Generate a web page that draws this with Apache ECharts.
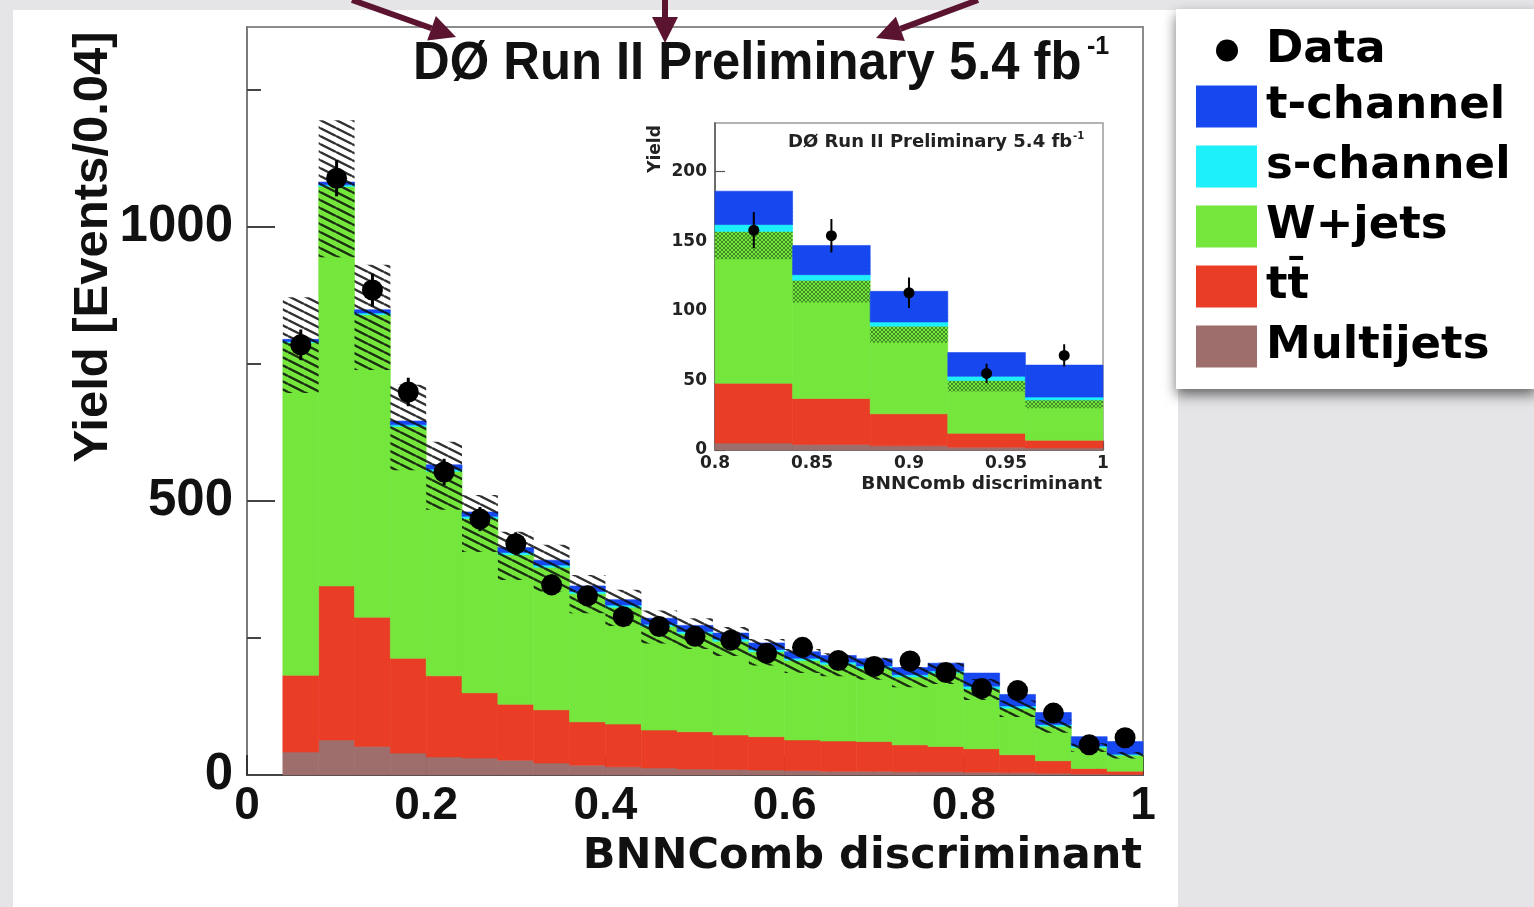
<!DOCTYPE html>
<html><head><meta charset="utf-8">
<script src="https://cdn.jsdelivr.net/npm/echarts@6/dist/echarts.min.js"></script>
<style>html,body{margin:0;padding:0;background:#e5e5e7;overflow:hidden}#c{width:1534px;height:907px}</style>
</head><body><div id="c"></div>
<script>
// ---------------- data ----------------
const binEdges = [0.04,0.08,0.12,0.16,0.20,0.24,0.28,0.32,0.36,0.40,0.44,0.48,0.52,0.56,0.60,0.64,0.68,0.72,0.76,0.80,0.84,0.88,0.92,0.96,1.00];
const dataYield = [785,1089,885,699,553,467,422,347,327,289,271,253,246,222,233,209,198,208,187,158,154,113,55,68];
const dataErr   = [28,33,30,26,24,22,21,19,18,17,16,16,16,15,15,14,14,14,14,13,12,11,7,8];
const multijets = [42,64,52,40,33,31,27,22,18,15,13,11,10,9,8,7,7,6,6,5,4,3,2,1.5];
const ttbar     = [140,281,236,173,148,119,102,97,79,78,69,68,63,61,56,55,54,49,46,43,33,23,10,5.5];
const wjets     = [607,729,552,423,373,318,273,260,234,213,189,179,171,155,145,140,134,124,134,109,85,63,38,29];
const schan     = [2,3,3,3,4,4,4,4,4,4,4,4,4,4,4,4,4,4,4,5,4,3,3,2];
const tchan     = [4,5,6,7,8,8,9,9,10,10,11,11,11,12,12,12,13,13,14,24,21,22,17,23];
const uncLow    = [697,945,739,556,484,407,356,335,295,272,240,230,217,200,186,180,174,160,166,137,106,77,42,30];
const uncHigh   = [872,1195,931,712,608,511,444,420,365,338,300,286,270,248,230,222,214,197,205,175,136,101,58,42];
const xTickLabels = [0,0.2,0.4,0.6,0.8,1];
const yMajorTicks = [0,500,1000];
const yMinorTicks = [250,750,1250];
const insetYTicks = [0,50,100,150,200];
const insetFirstBin = 19; // inset shows bins 0.80 - 1.00
const compNames  = ['Multijets','tt\u0304','W+jets','s-channel','t-channel'];
const compValues = [multijets, ttbar, wjets, schan, tchan];
const compColors = ['#9d6e6b','#ea3d26','#74e63c','#1ef0fa','#1747ef'];

// ---------------- helpers ----------------
function makeHatch(w, h, color, lw, cross) {
  const c = document.createElement('canvas'); c.width = w; c.height = h;
  const g = c.getContext('2d'); g.strokeStyle = color; g.lineWidth = lw;
  for (let k = -1; k <= 1; k++) {
    g.beginPath(); g.moveTo(0, k * h); g.lineTo(w, k * h + h); g.stroke();
    if (cross) { g.beginPath(); g.moveTo(0, k * h + h); g.lineTo(w, k * h); g.stroke(); }
  }
  return c;
}
const hatchMain = { image: makeHatch(16, 8, 'rgba(10,10,10,0.85)', 2.4, false), repeat: 'repeat' };
const hatchInset = { image: makeHatch(4, 4, 'rgba(25,70,20,0.55)', 1, true), repeat: 'repeat' };

function rectItem(params, api) {
  const p0 = api.coord([api.value(0), api.value(2)]);
  const p1 = api.coord([api.value(1), api.value(3)]);
  return { type: 'rect',
    shape: { x: p0[0], y: p1[1], width: p1[0] - p0[0], height: p0[1] - p1[1] },
    style: { fill: api.visual('color'), stroke: api.visual('color'), lineWidth: 0.6 } };
}
function hatchItem(fill) {
  return function (params, api) {
    const p0 = api.coord([api.value(0), api.value(2)]);
    const p1 = api.coord([api.value(1), api.value(3)]);
    return { type: 'rect',
      shape: { x: p0[0], y: p1[1], width: p1[0] - p0[0], height: p0[1] - p1[1] },
      style: { fill: fill } };
  };
}
function errItem(lw) {
  return function (params, api) {
    const a = api.coord([api.value(0), api.value(1) - api.value(2)]);
    const b = api.coord([api.value(0), api.value(1) + api.value(2)]);
    return { type: 'line', shape: { x1: a[0], y1: a[1], x2: b[0], y2: b[1] },
      style: { stroke: '#000', lineWidth: lw } };
  };
}

function buildSeries(from, to, axisIdx, hatchFill, hatchBeforeSignal, dotSize, errW) {
  const out = [];
  const cum = [];
  for (let i = from; i < to; i++) cum.push(0);
  const hatchSeries = {
    type: 'custom', name: 'Uncertainty', xAxisIndex: axisIdx, yAxisIndex: axisIdx,
    renderItem: hatchItem(hatchFill), silent: true,
    data: cum.map((_, j) => [binEdges[from + j], binEdges[from + j + 1], uncLow[from + j], uncHigh[from + j]])
  };
  compValues.forEach((vals, k) => {
    const data = [];
    for (let i = from; i < to; i++) {
      const j = i - from;
      data.push([binEdges[i], binEdges[i + 1], cum[j], cum[j] + vals[i]]);
      cum[j] += vals[i];
    }
    out.push({ type: 'custom', name: compNames[k], xAxisIndex: axisIdx, yAxisIndex: axisIdx,
      renderItem: rectItem, itemStyle: { color: compColors[k] }, silent: true, data: data });
    if (hatchBeforeSignal && k === 2) out.push(hatchSeries);
  });
  if (!hatchBeforeSignal) out.push(hatchSeries);
  const errData = [], dotData = [];
  for (let i = from; i < to; i++) {
    const c = (binEdges[i] + binEdges[i + 1]) / 2;
    errData.push([c, dataYield[i], dataErr[i]]);
    dotData.push([c, dataYield[i]]);
  }
  out.push({ type: 'custom', name: 'DataErr', xAxisIndex: axisIdx, yAxisIndex: axisIdx,
    renderItem: errItem(errW), silent: true, data: errData });
  out.push({ type: 'scatter', name: 'Data', xAxisIndex: axisIdx, yAxisIndex: axisIdx,
    symbol: 'circle', symbolSize: dotSize, itemStyle: { color: '#000', opacity: 1 }, silent: true, data: dotData });
  return out;
}

const series = [].concat(
  buildSeries(0, binEdges.length - 1, 0, hatchMain, false, 21, 3),
  buildSeries(insetFirstBin, binEdges.length - 1, 1, hatchInset, true, 11, 2)
);
// second y axis (index 2) only for the main plot's minor ticks: needs a carrier series
series.push({ type: 'line', xAxisIndex: 0, yAxisIndex: 2, data: [], silent: true });

const AR = '#5a1430';
function arrow(x0, y0, tx, ty) {
  const dx = tx - x0, dy = ty - y0, L = Math.hypot(dx, dy);
  const ux = dx / L, uy = dy / L, nx = -uy, ny = ux;
  const bx = tx - 26 * ux, by = ty - 26 * uy;
  return [
    { type: 'line', shape: { x1: x0, y1: y0, x2: bx, y2: by }, style: { stroke: AR, lineWidth: 6 }, z: 100 },
    { type: 'polygon', shape: { points: [[tx, ty], [bx + 13 * nx, by + 13 * ny], [bx - 13 * nx, by - 13 * ny]] },
      style: { fill: AR }, z: 100 }
  ];
}

const LS = "'Liberation Sans', Arial, Helvetica, sans-serif";
const DV = "'DejaVu Sans', Verdana, sans-serif";
const plain = v => String(+(+v).toFixed(2));

const option = {
  animation: false,
  backgroundColor: 'transparent',
  grid: [
    { left: 247, top: 27, width: 896, height: 748, show: true, borderColor: '#8c8c8c', borderWidth: 2, backgroundColor: 'transparent' },
    { left: 715, top: 123, width: 388, height: 327, show: true, borderColor: '#9a9a9a', borderWidth: 1.5, backgroundColor: '#ffffff' }
  ],
  xAxis: [
    { type: 'value', gridIndex: 0, min: 0, max: 1, interval: 0.2,
      axisLine: { show: true, onZero: false, lineStyle: { color: '#444', width: 2 } },
      axisTick: { show: true, inside: true, length: 20, lineStyle: { color: '#333', width: 2 } },
      minorTick: { show: true, splitNumber: 4, length: 10, lineStyle: { color: '#333', width: 2 } },
      splitLine: { show: false },
      axisLabel: { show: true, margin: 8, fontSize: 46, fontWeight: 'bold', fontFamily: LS, color: '#111',
        customValues: xTickLabels, formatter: plain } },
    { type: 'value', gridIndex: 1, min: 0.8, max: 1.0, interval: 0.05,
      axisLine: { show: true, onZero: false, lineStyle: { color: '#555', width: 1.5 } },
      axisTick: { show: true, inside: true, length: 9, lineStyle: { color: '#555', width: 1.2 } },
      minorTick: { show: true, splitNumber: 5, length: 5, lineStyle: { color: '#555', width: 1 } },
      splitLine: { show: false },
      axisLabel: { show: true, margin: 5, fontSize: 17, fontWeight: 'bold', fontFamily: DV, color: '#222',
        formatter: plain } }
  ],
  yAxis: [
    { type: 'value', gridIndex: 0, min: 0, max: 1365,
      axisLine: { show: true, onZero: false, lineStyle: { color: '#7a7a7a', width: 2 } },
      axisTick: { show: true, inside: true, length: 28, customValues: yMajorTicks, lineStyle: { color: '#444', width: 2 } },
      splitLine: { show: false },
      axisLabel: { show: true, margin: 14, fontSize: 51, fontWeight: 'bold', fontFamily: LS, color: '#111',
        customValues: yMajorTicks, formatter: plain } },
    { type: 'value', gridIndex: 1, min: 0, max: 235,
      axisLine: { show: true, onZero: false, lineStyle: { color: '#555', width: 1.5 } },
      axisTick: { show: true, inside: true, length: 10, customValues: insetYTicks, lineStyle: { color: '#555', width: 1.2 } },
      splitLine: { show: false },
      axisLabel: { show: true, margin: 8, fontSize: 17, fontWeight: 'bold', fontFamily: DV, color: '#222',
        customValues: insetYTicks, formatter: plain } },
    { type: 'value', gridIndex: 0, min: 0, max: 1365, position: 'left',
      axisLine: { show: false },
      axisTick: { show: true, inside: true, length: 14, customValues: yMinorTicks, lineStyle: { color: '#444', width: 2 } },
      splitLine: { show: false }, axisLabel: { show: false } }
  ],
  legend: [
    { data: [{ name: 'Data', icon: 'circle' }], left: 1216, top: 28, padding: 0,
      itemWidth: 22, itemHeight: 22, selectedMode: false,
      textStyle: { fontSize: 45, fontWeight: 'bold', fontFamily: DV, color: '#000', lineHeight: 42, padding: [0, 0, 0, 23] } },
    { data: ['t-channel', 's-channel', 'W+jets', 'tt\u0304', 'Multijets'], orient: 'vertical', left: 1196, top: 84, padding: 0,
      itemWidth: 61, itemHeight: 42, itemGap: 15, icon: 'rect', selectedMode: false,
      textStyle: { fontSize: 45, fontWeight: 'bold', fontFamily: DV, color: '#000', lineHeight: 42, padding: [0, 0, 0, 4] } }
  ],
  graphic: [].concat([
    { type: 'rect', shape: { x: 0, y: 0, width: 1534, height: 907 }, style: { fill: '#e5e5e7' }, z: -100, silent: true },
    { type: 'rect', shape: { x: 13, y: 10, width: 1165, height: 897 }, style: { fill: '#ffffff' }, z: -99, silent: true },
    { type: 'rect', shape: { x: 1176, y: 9, width: 360, height: 380 },
      style: { fill: '#ffffff', shadowBlur: 12, shadowColor: 'rgba(0,0,0,0.55)', shadowOffsetY: 6 }, z: -98, silent: true },
    { type: 'text', x: 413, y: 64, scaleX: 0.94, z: 100, silent: true,
      style: { text: 'D\u00d8 Run II Preliminary 5.4 fb', fontSize: 54, fontWeight: 'bold', fontFamily: LS, fill: '#111', align: 'left', verticalAlign: 'middle' } },
    { type: 'text', x: 1087, y: 47, z: 100, silent: true,
      style: { text: '-1', fontSize: 25, fontWeight: 'bold', fontFamily: LS, fill: '#111', align: 'left', verticalAlign: 'middle' } },
    { type: 'text', x: 93, y: 247, rotation: Math.PI / 2, z: 100, silent: true,
      style: { text: 'Yield [Events/0.04]', fontSize: 49, fontWeight: 'bold', fontFamily: LS, fill: '#111', align: 'center', verticalAlign: 'middle' } },
    { type: 'text', x: 1142, y: 857, z: 100, silent: true,
      style: { text: 'BNNComb discriminant', fontSize: 43, fontWeight: 'bold', fontFamily: DV, fill: '#111', align: 'right', verticalAlign: 'middle' } },
    { type: 'text', x: 788, y: 142, z: 100, silent: true,
      style: { text: 'D\u00d8 Run II Preliminary 5.4 fb', fontSize: 18, fontWeight: 'bold', fontFamily: DV, fill: '#222', align: 'left', verticalAlign: 'middle' } },
    { type: 'text', x: 1073, y: 136, z: 100, silent: true,
      style: { text: '-1', fontSize: 10, fontWeight: 'bold', fontFamily: DV, fill: '#222', align: 'left', verticalAlign: 'middle' } },
    { type: 'text', x: 656, y: 149, rotation: Math.PI / 2, z: 100, silent: true,
      style: { text: 'Yield', fontSize: 17, fontWeight: 'bold', fontFamily: DV, fill: '#222', align: 'center', verticalAlign: 'middle' } },
    { type: 'text', x: 1102, y: 484, z: 100, silent: true,
      style: { text: 'BNNComb discriminant', fontSize: 18.5, fontWeight: 'bold', fontFamily: DV, fill: '#222', align: 'right', verticalAlign: 'middle' } }
  ], arrow(352, 0, 456, 37), arrow(665, 0, 665, 43), arrow(978, 0, 876, 38)),
  series: series
};
const chart = echarts.init(document.getElementById('c'), null, { renderer: 'canvas' });
chart.setOption(option);
</script></body></html>
